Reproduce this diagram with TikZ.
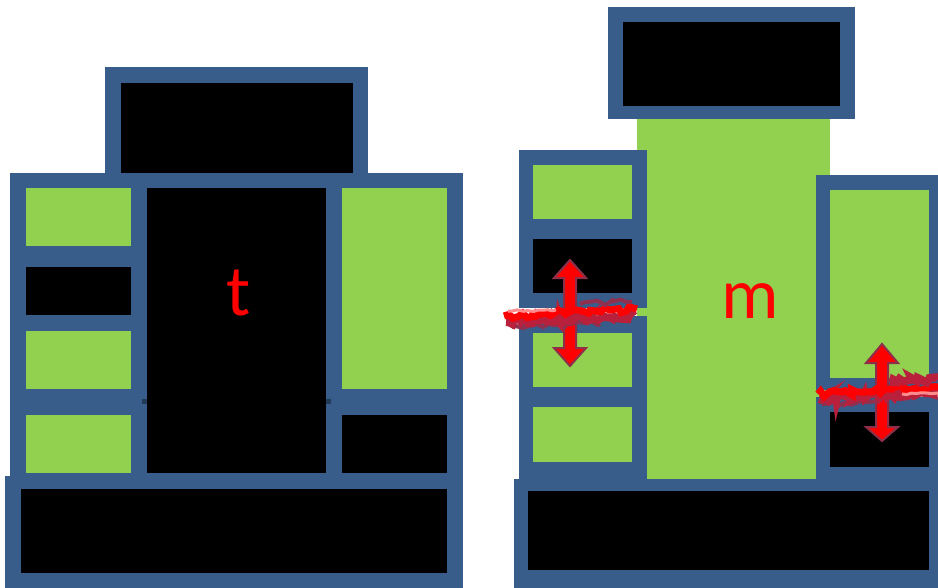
\documentclass[tikz,border=0pt]{standalone}
\usepackage{fontspec}
\newfontfamily\calfont{Carlito}
\usetikzlibrary{decorations.pathmorphing}
\definecolor{frameblue}{HTML}{385D8A}
\definecolor{cellgreen}{HTML}{92D050}
\definecolor{crackdark}{HTML}{B8203C}
\definecolor{crackmid}{HTML}{8E3050}
\definecolor{arrowedge}{HTML}{8E2F4A}
\definecolor{seamdark}{HTML}{243B57}
\tikzset{
  bluebox/.style={fill=frameblue},
  blackcell/.style={fill=black},
  greencell/.style={fill=cellgreen},
  arrowblock/.style={fill=red, draw=arrowedge, line width=2pt, line join=miter},
  crackred/.style={draw=red, line width=7pt, decorate, decoration={random steps, segment length=4pt, amplitude=3pt}},
  crackdeep/.style={draw=crackdark, line width=8pt, decorate, decoration={random steps, segment length=3pt, amplitude=3pt}},
  crackshade/.style={draw=crackmid, line width=4pt, decorate, decoration={random steps, segment length=5pt, amplitude=3pt}},
  crackpale/.style={draw=white!55!red, line width=3pt, decorate, decoration={random steps, segment length=5pt, amplitude=1pt}},
  letter/.style={text=red, font=\calfont\fontsize{72}{72}\selectfont, inner sep=0pt, anchor=base}
}
\begin{document}
\begin{tikzpicture}[x=1pt,y=-1pt]
\pgfmathsetseed{7}
\useasboundingbox (0,0) rectangle (938,587);
\begin{scope}
\clip (0,0) rectangle (938,587);
\fill[white] (0,0) rectangle (938,587);
% ---------------- left figure ----------------
\fill[bluebox] (105,67) rectangle (368,188);
\fill[bluebox] (10,173) rectangle (463,489);
\fill[bluebox] (5,476) rectangle (463,592);
\fill[blackcell] (121,83) rectangle (353,173);
\fill[greencell] (26,188) rectangle (131,246);
\fill[blackcell] (26,267) rectangle (131,315);
\fill[greencell] (26,331) rectangle (131,389);
\fill[greencell] (26,415) rectangle (131,473);
\fill[blackcell] (147,188) rectangle (326,473);
\fill[greencell] (342,188) rectangle (447,389);
\fill[blackcell] (342,415) rectangle (447,473);
\fill[blackcell] (21,489) rectangle (447,573);
\fill[seamdark] (142,399) rectangle (147,404);
\fill[seamdark] (326,399) rectangle (331,404);
\node[letter] (tlabel) at (239,315) {t};
% ---------------- right figure ----------------
\fill[greencell] (637,119) rectangle (830,481);
\fill[bluebox] (608,7) rectangle (855,119);
\fill[blackcell] (623,22) rectangle (840,106);
% left column, two stacked boxes
\fill[bluebox] (519,150) rectangle (647,308);
\fill[greencell] (533,165) rectangle (632,219);
\fill[blackcell] (533,239) rectangle (632,293);
\fill[bluebox] (519,316) rectangle (647,479);
\fill[greencell] (533,333) rectangle (632,387);
\fill[greencell] (533,407) rectangle (632,462);
% right column, two stacked boxes
\fill[bluebox] (816,175) rectangle (945,390);
\fill[greencell] (830,190) rectangle (929,378);
\fill[bluebox] (816,397) rectangle (945,481);
\fill[blackcell] (830,412) rectangle (929,467);
% bottom box
\fill[bluebox] (514,479) rectangle (945,592);
\fill[blackcell] (528,491) rectangle (929,570);
% arrows
\draw[arrowblock] (570,260) -- (586,278) -- (576,278) -- (576,348) -- (586,348)
  -- (570,366) -- (554,348) -- (564,348) -- (564,278) -- (554,278) -- cycle;
\draw[arrowblock] (882,344) -- (898,363) -- (888,363) -- (888,427) -- (898,427)
  -- (882,441) -- (866,427) -- (876,427) -- (876,363) -- (866,363) -- cycle;
% cracks
\draw[crackshade] (512,327) -- (600,324);
\draw[crackdeep] (506,322) -- (634,316);
\draw[crackred] (504,316) -- (637,309);
\draw[crackshade] (580,304) -- (632,302);
\draw[crackpale] (508,311) -- (556,310);
\draw[crackshade] (822,404) -- (880,402);
\draw[crackdeep] (819,399) -- (938,392);
\draw[crackred] (818,394) -- (938,387);
\draw[crackdeep] (890,382) -- (938,379);
\draw[crackpale] (902,394) -- (938,393);
\node[letter] (mlabel) at (750,318) {m};
\end{scope}
\end{tikzpicture}
\end{document}
